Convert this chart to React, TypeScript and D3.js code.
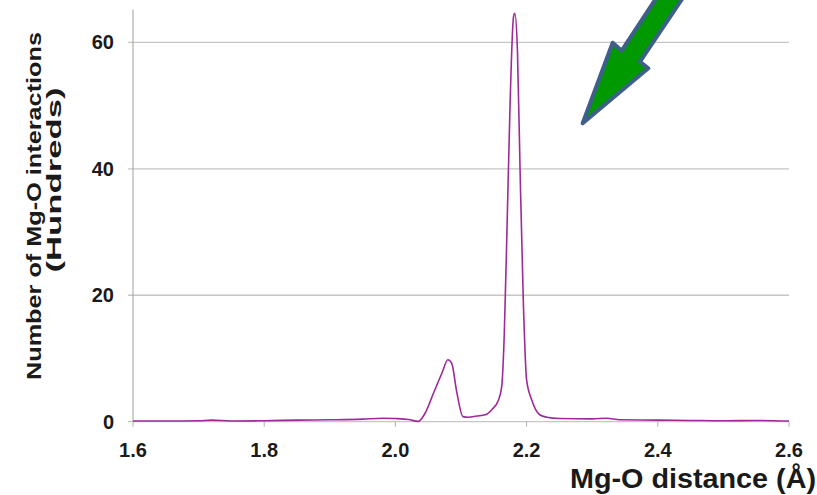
import React from 'react';
import * as d3 from 'd3';

// Mg-O distance (Å) and number of interactions (hundreds)
const distance = [
  1.6, 1.65, 1.7, 1.72, 1.75, 1.8, 1.85, 1.9, 1.95, 1.98, 2.0, 2.02, 2.035,
  2.045, 2.058, 2.071, 2.08, 2.086, 2.093, 2.103, 2.111, 2.124, 2.137, 2.147,
  2.157, 2.162, 2.166, 2.17, 2.175, 2.18, 2.182, 2.186, 2.19, 2.195, 2.2,
  2.208, 2.22, 2.231, 2.25, 2.3, 2.322, 2.342, 2.4, 2.45, 2.5, 2.55, 2.6,
];
const interactions = [
  0.1, 0.1, 0.15, 0.25, 0.12, 0.15, 0.25, 0.3, 0.4, 0.55, 0.5, 0.35, 0.05,
  1.3, 4.5, 7.7, 9.8, 9.2, 5.0, 0.8, 0.7, 0.9, 1.1, 1.9,
  3.4, 5.5, 14, 30, 51, 64, 64.6, 58.8, 40, 19, 6.6,
  3.4, 1.1, 0.7, 0.5, 0.45, 0.55, 0.3, 0.25, 0.2, 0.15, 0.2, 0.1,
];

const xTicks = [1.6, 1.8, 2.0, 2.2, 2.4, 2.6];
const yTicks = [0, 20, 40, 60];

// annotation arrow outline, in data units (distance, hundreds)
const arrowX = [2.2855, 2.3312, 2.345, 2.4157, 2.4564, 2.3729, 2.3855];
const arrowY = [47.2, 59.95, 58.68, 69.86, 69.86, 56.94, 55.9];

const width = 817;
const height = 495;

export default function App() {
  const x = d3.scaleLinear().domain([1.6, 2.6]).range([133, 789]);
  const y = d3.scaleLinear().domain([0, 65.2]).range([421.7, 9.5]);

  const pts = distance.map((d, i) => [d, interactions[i]] as [number, number]);
  const line = d3
    .line<[number, number]>()
    .x((d) => x(d[0]))
    .y((d) => y(d[1]))
    .curve(d3.curveMonotoneX);

  const arrowPath =
    d3.line<number>().x((_, i) => x(arrowX[i])).y((_, i) => y(arrowY[i]))(
      arrowX.map((_, i) => i)
    ) + 'Z';

  const [x0, x1] = x.range();
  const font = "'Liberation Sans', Arial, sans-serif";

  return (
    <svg
      width={width}
      height={height}
      style={{ position: 'absolute', left: 0, top: 0, background: '#fff' }}
      fontFamily={font}
    >
      {/* gridlines */}
      {yTicks.slice(1).map((t) => (
        <line key={t} x1={x0 - 5} x2={x1} y1={y(t)} y2={y(t)} stroke="#c6c6c6" strokeWidth={1.3} />
      ))}
      {/* y axis */}
      <line x1={x0} x2={x0} y1={y.range()[1]} y2={y(0)} stroke="#a0a0a0" strokeWidth={1} />
      {/* x axis */}
      <line x1={x0 - 5} x2={x1} y1={y(0)} y2={y(0)} stroke="#c6c6c6" strokeWidth={1.3} />
      {xTicks.map((t) => (
        <line key={t} x1={x(t)} x2={x(t)} y1={y(0)} y2={y(0) + 5} stroke="#b0b0b0" strokeWidth={1} />
      ))}

      {/* y tick labels */}
      {yTicks.map((t) => (
        <text key={t} x={114} y={y(t) + 7} textAnchor="end" fontSize={20} fontWeight="bold" fill="#1a1a1a">
          {t}
        </text>
      ))}
      {/* x tick labels */}
      {xTicks.map((t) => (
        <text key={t} x={x(t)} y={457} textAnchor="middle" fontSize={20} fontWeight="bold" fill="#1a1a1a">
          {t.toFixed(1)}
        </text>
      ))}

      {/* data line */}
      <path d={line(pts) ?? ''} fill="none" stroke="#9e2a98" strokeWidth={1.6} />

      {/* annotation arrow */}
      <path d={arrowPath} fill="#009a00" stroke="#3d5f8a" strokeWidth={4} strokeLinejoin="round" />

      {/* axis titles */}
      <text
        x={816}
        y={488}
        textAnchor="end"
        fontSize={28}
        fontWeight="bold"
        fill="#1a1a1a"
        textLength={246}
        lengthAdjust="spacingAndGlyphs"
      >
        Mg-O distance (Å)
      </text>
      <text
        transform="translate(41,206) rotate(-90)"
        textAnchor="middle"
        fontSize={21}
        fontWeight="bold"
        fill="#1a1a1a"
        textLength={348}
        lengthAdjust="spacingAndGlyphs"
      >
        Number of Mg-O interactions
      </text>
      <text
        transform="translate(61,180) rotate(-90)"
        textAnchor="middle"
        fontSize={21}
        fontWeight="bold"
        fill="#1a1a1a"
        textLength={185}
        lengthAdjust="spacingAndGlyphs"
      >
        (Hundreds)
      </text>
    </svg>
  );
}
